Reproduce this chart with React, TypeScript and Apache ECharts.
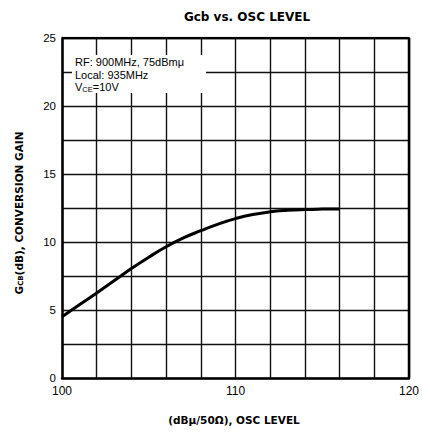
import React, { useEffect, useRef } from "react";
import * as echarts from "echarts";

const oscLevel = [100, 101, 102, 103, 104, 105, 106, 107, 108, 109, 110, 111, 112, 113, 114, 115, 116];
const gain = [4.5, 5.38, 6.25, 7.15, 8.05, 8.88, 9.65, 10.3, 10.83, 11.32, 11.72, 12.02, 12.22, 12.33, 12.39, 12.42, 12.43];
const xTickLabels = [100, 110, 120];
const yTickLabels = [0, 5, 10, 15, 20, 25];

const FONT = "Liberation Sans, Arial, sans-serif";
const BOLD = "DejaVu Sans, Liberation Sans, sans-serif";

export default function App() {
  const ref = useRef<HTMLDivElement>(null);
  useEffect(() => {
    const chart = echarts.init(ref.current!, null, { renderer: "svg" });
    chart.setOption({
      animation: false,
      backgroundColor: "#fff",
      title: {
        text: "Gcb vs. OSC LEVEL",
        left: 242,
        top: 6,
        textAlign: "center",
        textStyle: { fontFamily: BOLD, fontSize: 12, fontWeight: "bold", color: "#000" },
      },
      grid: { left: 62, right: 10, top: 38, bottom: 56 },
      xAxis: {
        type: "value",
        min: 100,
        max: 120,
        interval: 2,
        axisLine: { show: true, onZero: false, lineStyle: { color: "#000", width: 2.5 } },
        axisTick: { show: false },
        splitLine: { show: true, lineStyle: { color: "#111", width: 1.4 } },
        axisLabel: {
          margin: 7,
          fontFamily: FONT,
          fontSize: 12,
          color: "#000",
          formatter: (v: number) => (xTickLabels.includes(v) ? String(v) : ""),
        },
      },
      yAxis: {
        type: "value",
        min: 0,
        max: 25,
        interval: 2.5,
        axisLine: { show: true, onZero: false, lineStyle: { color: "#000", width: 2.5 } },
        axisTick: { show: false },
        splitLine: { show: true, lineStyle: { color: "#111", width: 1.4 } },
        axisLabel: {
          margin: 6,
          fontFamily: FONT,
          fontSize: 11.5,
          lineHeight: 11,
          color: "#000",
          formatter: (v: number) => (yTickLabels.includes(v) ? String(v) : ""),
        },
      },
      series: [
        {
          type: "line",
          data: oscLevel.map((x, i) => [x, gain[i]]),
          smooth: 0.5,
          showSymbol: false,
          lineStyle: { color: "#000", width: 3 },
          z: 5,
        },
        {
          type: "line",
          data: [[100, 25], [120, 25], [120, 0]],
          showSymbol: false,
          silent: true,
          lineStyle: { color: "#000", width: 2.5 },
          z: 4,
        },
      ],
      graphic: [
        {
          type: "rect",
          shape: { x: 72, y: 55, width: 134, height: 38 },
          style: { fill: "#fff" },
          z: 10,
        },
        {
          type: "text",
          x: 75,
          y: 56,
          z: 11,
          style: {
            text: "RF: 900MHz, 75dBmμ\nLocal: 935MHz\n{v|V}{s|CE}{v|=10V}",
            fontFamily: FONT,
            fontSize: 11,
            lineHeight: 12.5,
            fill: "#000",
            rich: {
              v: { fontFamily: FONT, fontSize: 11, lineHeight: 12.5, fill: "#000" },
              s: { fontFamily: FONT, fontSize: 7.5, lineHeight: 12.5, fill: "#000", verticalAlign: "bottom", padding: [4, 0, 0, 0] },
            },
          },
        },
        {
          type: "text",
          x: 234,
          y: 420,
          z: 11,
          style: {
            text: "(dBμ/50Ω), OSC LEVEL",
            fontFamily: BOLD,
            fontSize: 10.5,
            fontWeight: "bold",
            fill: "#000",
            textAlign: "center",
            textVerticalAlign: "middle",
          },
        },
        {
          type: "text",
          x: 19,
          y: 213,
          rotation: Math.PI / 2,
          z: 11,
          style: {
            text: "{b|G}{s|CB}{b|(dB), CONVERSION GAIN}",
            textAlign: "center",
            textVerticalAlign: "middle",
            rich: {
              b: { fontFamily: BOLD, fontSize: 10.5, fontWeight: "bold", fill: "#000" },
              s: { fontFamily: BOLD, fontSize: 7, fontWeight: "bold", fill: "#000", padding: [4, 0, 0, 0] },
            },
          },
        },
      ],
    });
    return () => chart.dispose();
  }, []);
  return <div ref={ref} style={{ width: 422, height: 434, position: "absolute", left: 0, top: 0 }} />;
}
